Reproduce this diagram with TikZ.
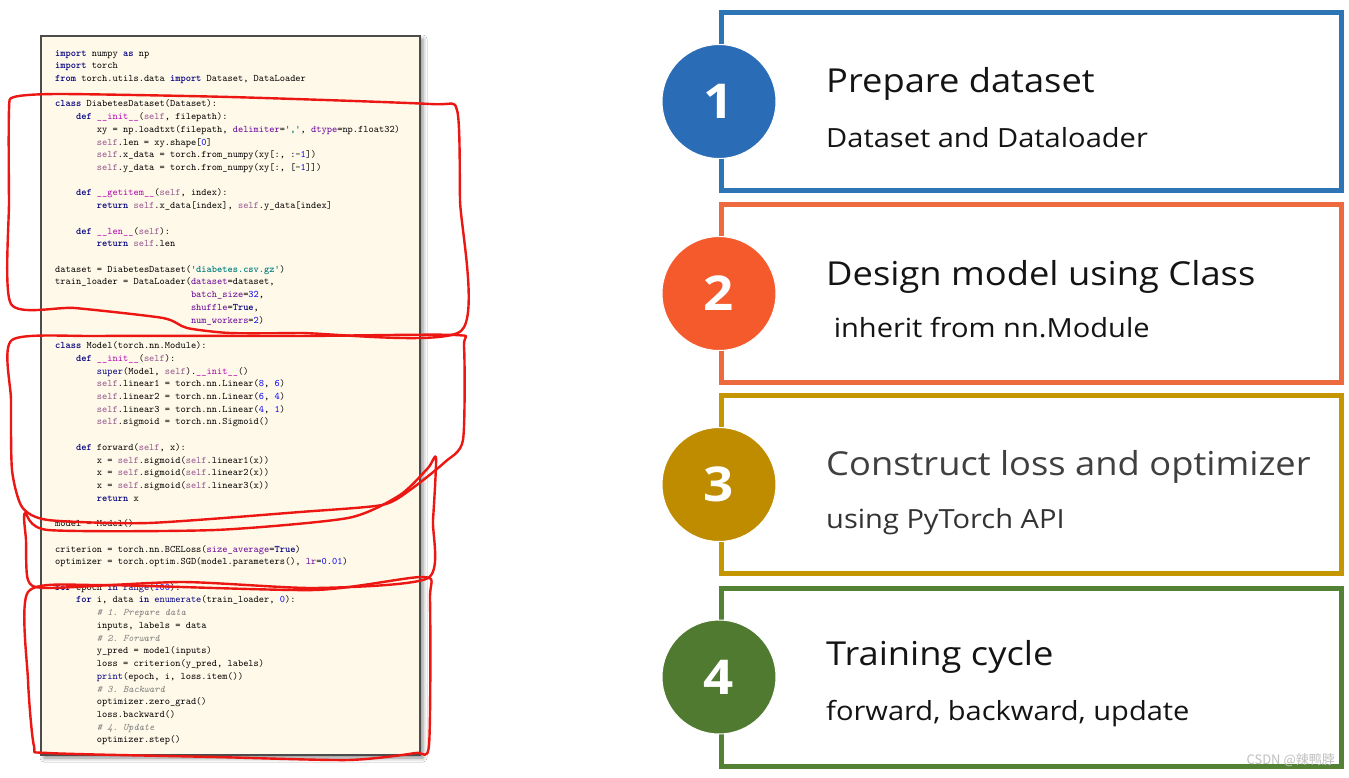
\documentclass[tikz,border=0pt]{standalone}
\usepackage{fontspec}
\usetikzlibrary{shadows.blur}
\newfontfamily\slidefont[FakeStretch=1.1]{Open Sans}
\newfontfamily\wmfont{Noto Sans CJK SC}

\definecolor{codebg}{RGB}{255,249,233}
\definecolor{redpen}{RGB}{236,22,18}
\definecolor{boxblue}{RGB}{46,117,182}
\definecolor{numblue}{RGB}{43,108,183}
\definecolor{boxorange}{RGB}{237,106,62}
\definecolor{numorange}{RGB}{245,90,45}
\definecolor{boxgold}{RGB}{196,150,0}
\definecolor{numgold}{RGB}{191,140,0}
\definecolor{boxgreen}{RGB}{84,130,53}
\definecolor{numgreen}{RGB}{80,122,48}
\definecolor{kwc}{RGB}{0,0,128}
\definecolor{selfc}{RGB}{148,85,141}
\definecolor{numc}{RGB}{0,0,255}
\definecolor{argc}{RGB}{102,0,153}
\definecolor{strc}{RGB}{0,128,128}
\definecolor{cmtc}{RGB}{128,128,128}
\definecolor{dunc}{RGB}{178,0,178}

% python colouring
\newcommand{\pykw}[1]{\textcolor{kwc}{\bfseries #1}}
\newcommand{\pybi}[1]{\textcolor{kwc}{#1}}
\newcommand{\pyself}{\textcolor{selfc}{self}}
\newcommand{\pynum}[1]{\textcolor{numc}{#1}}
\newcommand{\pyarg}[1]{\textcolor{argc}{#1}}
\newcommand{\pystr}[1]{\textcolor{strc}{\bfseries #1}}
\newcommand{\pycmt}[1]{\textcolor{cmtc}{\itshape #1}}
\newcommand{\pydun}[1]{\textcolor{dunc}{#1}}
\newcommand{\codeln}[1]{\hbox{#1}}
\newcommand{\ia}{\phantom{xxxx}}
\newcommand{\ib}{\ia\ia}
\newcommand{\ic}{\phantom{xxxxxxxxxxxxxxxxxxxxxxxxxx}}

\tikzset{
  codepanel/.style={draw=black!70, line width=1.8pt, fill=codebg,
    minimum width=379pt, minimum height=719pt, inner sep=0,
    blur shadow={shadow xshift=3pt, shadow yshift=-3pt, shadow blur radius=4pt, shadow opacity=45}},
  codetext/.style={anchor=base west, inner sep=0,
    font=\ttfamily\fontsize{9.95}{12.72}\selectfont\frenchspacing},
  loop/.style={draw=redpen, line width=2.4pt, line cap=round, line join=round},
  stepbox/.style={draw=#1, line width=5pt, fill=white, minimum width=620pt,
    minimum height=178pt, inner sep=0},
  stepnum/.style={circle, fill=#1, draw=white, line width=1pt, minimum size=114pt,
    inner sep=0, text=white, font=\slidefont\bfseries\fontsize{48}{48}\selectfont},
  steptitle/.style={anchor=base west, inner sep=0, text=black!92,
    font=\slidefont\fontsize{33}{33}\selectfont},
  stepsub/.style={anchor=base west, inner sep=0, text=black!92,
    font=\slidefont\fontsize{26.4}{26.4}\selectfont},
}

\begin{document}
\begin{tikzpicture}[x=1pt, y=-1pt]
    \useasboundingbox[fill=white] (0,0) rectangle (1349,777);
    % code listing
    \node[codepanel] (panel) at (230.5,395.5) {};
    \node[codetext] (code) at (55,56) {\vtop{%
      \codeln{\pykw{import} numpy \pykw{as} np}
      \codeln{\pykw{import} torch}
      \codeln{\pykw{from} torch.utils.data \pykw{import} Dataset, DataLoader}
      \codeln{}
      \codeln{\pykw{class} DiabetesDataset(Dataset):}
      \codeln{\ia\pykw{def} \pydun{\_\_init\_\_}(\pyself, filepath):}
      \codeln{\ib xy = np.loadtxt(filepath, \pyarg{delimiter}=\pystr{','}, \pyarg{dtype}=np.float32)}
      \codeln{\ib\pyself.len = xy.shape[\pynum{0}]}
      \codeln{\ib\pyself.x\_data = torch.from\_numpy(xy[:, :-\pynum{1}])}
      \codeln{\ib\pyself.y\_data = torch.from\_numpy(xy[:, [-\pynum{1}]])}
      \codeln{}
      \codeln{\ia\pykw{def} \pydun{\_\_getitem\_\_}(\pyself, index):}
      \codeln{\ib\pykw{return} \pyself.x\_data[index], \pyself.y\_data[index]}
      \codeln{}
      \codeln{\ia\pykw{def} \pydun{\_\_len\_\_}(\pyself):}
      \codeln{\ib\pykw{return} \pyself.len}
      \codeln{}
      \codeln{dataset = DiabetesDataset(\pystr{'diabetes.csv.gz'})}
      \codeln{train\_loader = DataLoader(\pyarg{dataset}=dataset,}
      \codeln{\ic\pyarg{batch\_size}=\pynum{32},}
      \codeln{\ic\pyarg{shuffle}=\pykw{True},}
      \codeln{\ic\pyarg{num\_workers}=\pynum{2})}
      \codeln{}
      \codeln{\pykw{class} Model(torch.nn.Module):}
      \codeln{\ia\pykw{def} \pydun{\_\_init\_\_}(\pyself):}
      \codeln{\ib\pybi{super}(Model, \pyself).\pydun{\_\_init\_\_}()}
      \codeln{\ib\pyself.linear1 = torch.nn.Linear(\pynum{8}, \pynum{6})}
      \codeln{\ib\pyself.linear2 = torch.nn.Linear(\pynum{6}, \pynum{4})}
      \codeln{\ib\pyself.linear3 = torch.nn.Linear(\pynum{4}, \pynum{1})}
      \codeln{\ib\pyself.sigmoid = torch.nn.Sigmoid()}
      \codeln{}
      \codeln{\ia\pykw{def} forward(\pyself, x):}
      \codeln{\ib x = \pyself.sigmoid(\pyself.linear1(x))}
      \codeln{\ib x = \pyself.sigmoid(\pyself.linear2(x))}
      \codeln{\ib x = \pyself.sigmoid(\pyself.linear3(x))}
      \codeln{\ib\pykw{return} x}
      \codeln{}
      \codeln{model = Model()}
      \codeln{}
      \codeln{criterion = torch.nn.BCELoss(\pyarg{size\_average}=\pykw{True})}
      \codeln{optimizer = torch.optim.SGD(model.parameters(), \pyarg{lr}=\pynum{0.01})}
      \codeln{}
      \codeln{\pykw{for} epoch \pykw{in} \pybi{range}(\pynum{100}):}
      \codeln{\ia\pykw{for} i, data \pykw{in} \pybi{enumerate}(train\_loader, \pynum{0}):}
      \codeln{\ib\pycmt{\# 1. Prepare data}}
      \codeln{\ib inputs, labels = data}
      \codeln{\ib\pycmt{\# 2. Forward}}
      \codeln{\ib y\_pred = model(inputs)}
      \codeln{\ib loss = criterion(y\_pred, labels)}
      \codeln{\ib\pybi{print}(epoch, i, loss.item())}
      \codeln{\ib\pycmt{\# 3. Backward}}
      \codeln{\ib optimizer.zero\_grad()}
      \codeln{\ib loss.backward()}
      \codeln{\ib\pycmt{\# 4. Update}}
      \codeln{\ib optimizer.step()}}};
    % red hand-drawn loops
    \draw[loop] plot[smooth cycle, tension=0.4] coordinates {(9,110) (14,97) (60,94) (230,97)
      (430,104) (457,110) (460,200) (461,331) (300,333) (230,333) (187,328) (163,318)
      (75,308) (11,304) (9,200)};
    \draw[loop] plot[smooth cycle, tension=0.4] coordinates {(12,340) (100,336) (300,336)
      (455,335) (464,346) (463,440) (445,462) (410,490) (382,505) (300,512) (148,523)
      (48,520) (22,507) (12,470) (11,400)};
    \draw[loop] plot[smooth cycle, tension=0.4] coordinates {(25,513) (48,530) (215,530)
      (348,518) (400,495) (428,468) (436,458) (433,520) (428,578) (315,588) (182,582)
      (48,588) (28,580) (26,540)};
    \draw[loop] plot[smooth cycle, tension=0.4] coordinates {(28,592) (100,585) (315,590)
      (424,577) (430,600) (429,745) (415,753) (348,760) (215,757) (48,753) (34,746)
      (28,680)};
    % step boxes
    \node[stepbox=boxblue] (box1) at (1031.5,101.5) {};
    \node[stepnum=numblue] (num1) at (box1.west) {1};
    \node[steptitle] (title1) at (826,92) {Prepare dataset};
    \node[stepsub] (sub1) at (826,147) {Dataset and Dataloader};
    \node[stepbox=boxorange] (box2) at (1031.5,293.5) {};
    \node[stepnum=numorange] (num2) at (box2.west) {2};
    \node[steptitle] (title2) at (826,285) {Design model using Class};
    \node[stepsub] (sub2) at (826,337) {~inherit from nn.Module};
    \node[stepbox=boxgold] (box3) at (1031.5,484.5) {};
    \node[stepnum=numgold] (num3) at (box3.west) {3};
    \node[steptitle, text=black!75] (title3) at (826,475) {Construct loss and optimizer};
    \node[stepsub, text=black!80] (sub3) at (826,528) {using PyTorch API};
    \node[stepbox=boxgreen] (box4) at (1031.5,677) {};
    \node[stepnum=numgreen] (num4) at (box4.west) {4};
    \node[steptitle] (title4) at (826,665) {Training cycle};
    \node[stepsub] (sub4) at (826,720) {forward, backward, update};
    % watermark
    \node[anchor=base east, inner sep=0, text=black!25, font=\wmfont\fontsize{13}{13}\selectfont]
      (mark) at (1335,764) {CSDN @辣鸭脖};
\end{tikzpicture}
\end{document}
